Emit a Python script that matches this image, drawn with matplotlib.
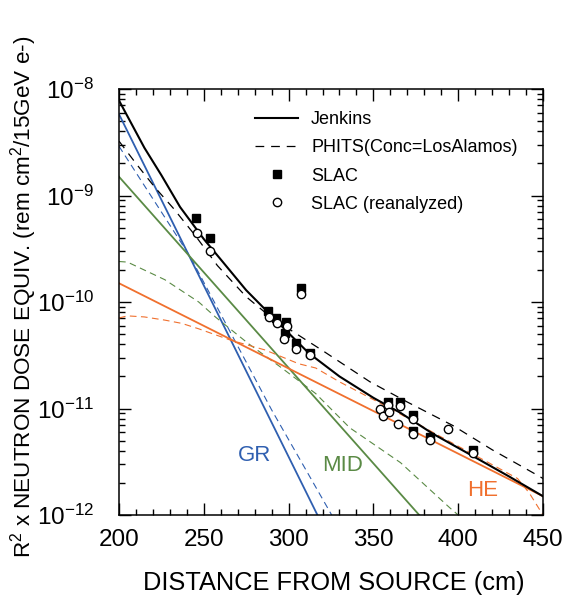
import matplotlib
matplotlib.use("Agg")
import matplotlib.pyplot as plt
from matplotlib.ticker import LogLocator, MultipleLocator, NullFormatter

plt.rcParams['font.family'] = ['Liberation Sans', 'DejaVu Sans']
plt.rcParams['mathtext.fontset'] = 'custom'
plt.rcParams['mathtext.rm'] = 'Liberation Sans'
plt.rcParams['mathtext.it'] = 'Liberation Sans'
plt.rcParams['mathtext.bf'] = 'Liberation Sans'

# --- data ---
# Jenkins total (solid black)
jen_x = [200, 215, 225, 236, 250, 261, 275, 285, 300, 312, 330, 350, 366, 385, 409, 430, 450]
jen_y = [7.8e-9, 2.8e-9, 1.55e-9, 7.8e-10, 3.9e-10, 2.4e-10, 1.29e-10, 8.9e-11, 5.1e-11,
         3.3e-11, 2.0e-11, 1.26e-11, 9.1e-12, 5.8e-12, 3.55e-12, 2.3e-12, 1.5e-12]
# PHITS total (dashed black)
phi_x = [200, 210, 221, 232, 245, 258, 275, 290, 304, 320, 348, 370, 397, 420, 448, 450]
phi_y = [3.24e-9, 2.0e-9, 1.2e-9, 7.6e-10, 4.2e-10, 2.2e-10, 1.12e-10, 7.1e-11, 5.1e-11,
         3.5e-11, 1.78e-11, 1.15e-11, 6.9e-12, 4.1e-12, 2.3e-12, 2.2e-12]

# components: Jenkins (solid) and PHITS (dashed)
gr_x = [200, 317]
gr_y = [5.8e-9, 1.0e-12]
gr_phx = [200, 242, 290, 325.4]
gr_phy = [2.9e-9, 2.66e-10, 9.7e-12, 1.0e-12]

mid_x = [200, 377]
mid_y = [1.5e-9, 1.0e-12]
mid_phx = [200, 205, 227, 247, 257, 276, 296, 316, 336, 366, 395, 400]
mid_phy = [2.4e-10, 2.37e-10, 1.62e-10, 1.0e-10, 7.2e-11, 4.1e-11, 2.4e-11, 1.38e-11,
           6.6e-12, 3.1e-12, 1.17e-12, 1.0e-12]

he_x = [200, 450]
he_y = [1.5e-10, 1.5e-12]
he_phx = [200, 205, 215, 227, 237, 247, 266, 286, 306, 316, 330, 360, 390, 423, 435, 442, 450]
he_phy = [7.08e-11, 7.41e-11, 7.24e-11, 6.76e-11, 6.3e-11, 5.6e-11, 4.37e-11, 3.55e-11,
          2.63e-11, 2.4e-11, 1.78e-11, 1.0e-11, 5.4e-12, 2.8e-12, 2.2e-12, 1.6e-12, 1.0e-12]

# SLAC measurements
slac_x = [245.4, 253.7, 287.9, 292.6, 298.5, 297.7, 304.5, 312.4, 307.1,
          358.8, 365.7, 373.2, 373.2, 383.4, 408.5]
slac_y = [6.2e-10, 4.0e-10, 8.3e-11, 7.1e-11, 6.5e-11, 5.1e-11, 4.1e-11, 3.3e-11, 1.35e-10,
          1.16e-11, 1.14e-11, 8.6e-12, 6.1e-12, 5.4e-12, 4.05e-12]
# SLAC reanalyzed
rean_x = [245.8, 253.7, 288.4, 293.0, 298.9, 297.5, 304.6, 312.6, 307.1,
          353.9, 355.8, 358.8, 359.4, 365.7, 364.7, 373.2, 373.2, 383.4, 394.2, 408.5]
rean_y = [4.4e-10, 3.0e-10, 7.2e-11, 6.4e-11, 6.0e-11, 4.5e-11, 3.6e-11, 3.2e-11, 1.18e-10,
          9.8e-12, 8.5e-12, 1.08e-11, 9.2e-12, 1.06e-11, 7.1e-12, 8.0e-12, 5.7e-12, 5.1e-12,
          6.4e-12, 3.8e-12]

y_decades = [1e-12, 1e-11, 1e-10, 1e-9, 1e-8]

blue = '#2f5fb0'
green = '#5a8a45'
orange = '#f0702e'

fig = plt.figure(figsize=(5.66, 6.01), dpi=100)
ax = fig.add_axes([119/566, 1-515/601, 424/566, 426/601])

ax.plot(gr_x, gr_y, color=blue, lw=1.3)
ax.plot(gr_phx, gr_phy, color=blue, lw=0.8, dashes=(6, 4))
ax.plot(mid_x, mid_y, color=green, lw=1.3)
ax.plot(mid_phx, mid_phy, color=green, lw=0.8, dashes=(6, 4))
ax.plot(he_x, he_y, color=orange, lw=1.3)
ax.plot(he_phx, he_phy, color=orange, lw=0.8, dashes=(6, 4))

ax.plot(jen_x, jen_y, color='black', lw=1.5, label='Jenkins')
ax.plot(phi_x, phi_y, color='black', lw=0.9, dashes=(7, 5.5), label='PHITS(Conc=LosAlamos)')
ax.plot(slac_x, slac_y, 's', color='black', ms=5.5, label='SLAC')
ax.plot(rean_x, rean_y, 'o', mfc='white', mec='black', mew=1.0, ms=6, label='SLAC (reanalyzed)')

ax.text(280, 3.6e-12, 'GR', color=blue, fontsize=16, ha='center', va='center')
ax.text(332, 2.9e-12, 'MID', color=green, fontsize=16, ha='center', va='center')
ax.text(414.6, 1.7e-12, 'HE', color=orange, fontsize=16, ha='center', va='center')

ax.set_yscale('log')
ax.set_xlim(200, 450)
ax.set_ylim(1e-12, 1e-8)
ax.xaxis.set_major_locator(MultipleLocator(50))
ax.xaxis.set_minor_locator(MultipleLocator(10))
ax.set_yticks(y_decades)
ax.yaxis.set_minor_locator(LogLocator(base=10, subs=range(2, 10), numticks=20))
ax.yaxis.set_minor_formatter(NullFormatter())

ax.tick_params(which='both', direction='in', top=True, right=True, width=1.0)
ax.tick_params(which='major', length=8.5)
ax.tick_params(which='minor', length=4.5)
ax.tick_params(axis='x', labelsize=17.5, pad=10)
ax.tick_params(axis='y', labelsize=17.5, pad=18)
for s in ax.spines.values():
    s.set_linewidth(1.1)

leg = ax.legend(loc='upper left', bbox_to_anchor=(0.321, 0.948), frameon=False,
                fontsize=13, handlelength=2.4, handletextpad=0.7, labelspacing=0.62,
                borderpad=0, borderaxespad=0)

fig.text(334/566, 1-590/601, 'DISTANCE FROM SOURCE (cm)', fontsize=18.3,
         ha='center', va='baseline')
fig.text(24/566, 1-297/601, 'R$^2$ x NEUTRON DOSE EQUIV. (rem cm$^2$/15GeV e-)',
         fontsize=16.2, rotation=90, ha='center', va='center')

fig.savefig('out.png', dpi=100)
